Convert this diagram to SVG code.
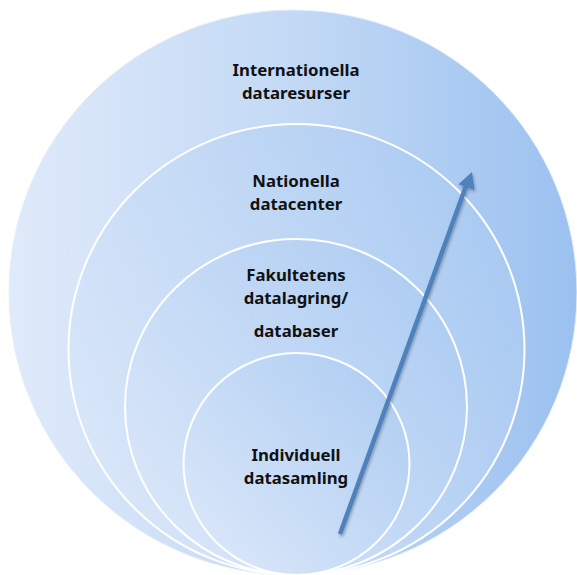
<svg xmlns="http://www.w3.org/2000/svg" width="577" height="575" viewBox="0 0 577 575">
<defs>
<linearGradient id="gOuter" x1="0" y1="0" x2="1" y2="0">
<stop offset="0" stop-color="#dfeafa"/>
<stop offset="0.5" stop-color="#c3d9f5"/>
<stop offset="1" stop-color="#9bc1f0"/>
</linearGradient>
<linearGradient id="gInner" x1="0.1" y1="0.9" x2="0.9" y2="0.1">
<stop offset="0" stop-color="#dce8f9"/>
<stop offset="1" stop-color="#a9caf2"/>
</linearGradient>
<filter id="sh" x="-20%" y="-20%" width="140%" height="140%">
<feGaussianBlur in="SourceAlpha" stdDeviation="1.5"/>
<feOffset dx="1" dy="2" result="b"/>
<feFlood flood-color="#000" flood-opacity="0.3"/>
<feComposite in2="b" operator="in"/>
<feMerge><feMergeNode/><feMergeNode in="SourceGraphic"/></feMerge>
</filter>
<style>
.ring{stroke:#ffffff;stroke-width:2}
.lbl{font-family:"Noto Sans","Open Sans","DejaVu Sans",sans-serif;font-weight:700;font-size:16.8px;fill:#111;text-anchor:middle}
</style>
</defs>
<g id="n-internationella">
<ellipse cx="293" cy="292.5" rx="284" ry="282.5" fill="url(#gOuter)" stroke="#e8eef6" stroke-width="1"/>
<text class="lbl" x="296" y="75.5">Internationella</text>
<text class="lbl" x="296" y="98.5">dataresurser</text>
</g>
<g id="n-nationella">
<ellipse cx="296.5" cy="349.5" rx="228" ry="225.5" fill="url(#gInner)" fill-opacity="0.55" class="ring"/>
<text class="lbl" x="296" y="186.5">Nationella</text>
<text class="lbl" x="296" y="209.5">datacenter</text>
</g>
<g id="n-fakultetens">
<ellipse cx="296" cy="407" rx="171" ry="168" fill="url(#gInner)" fill-opacity="0.55" class="ring"/>
<text class="lbl" x="296" y="280.5">Fakultetens</text>
<text class="lbl" x="296" y="303.5">datalagring/</text>
<text class="lbl" x="296" y="336.5">databaser</text>
</g>
<g id="n-individuell">
<ellipse cx="296.5" cy="464" rx="113" ry="111" fill="url(#gInner)" fill-opacity="0.55" class="ring"/>
<text class="lbl" x="296" y="461">Individuell</text>
<text class="lbl" x="296" y="484">datasamling</text>
</g>
<g id="connectors" filter="url(#sh)">
<line x1="340" y1="534" x2="466" y2="186" stroke="#4f81bd" stroke-width="4.5"/>
<path d="M472,172 L474.5,190 L458.5,184.2 z" fill="#4f81bd"/>
</g>
</svg>
